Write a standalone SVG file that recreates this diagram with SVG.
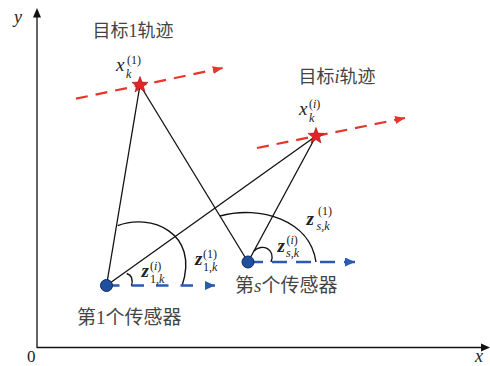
<svg xmlns="http://www.w3.org/2000/svg" width="490" height="366" viewBox="0 0 490 366">
<style>
.ax{stroke:#111;stroke-width:1.3;fill:none}
.ln{stroke:#111;stroke-width:1.3;fill:none}
.arc{stroke:#111;stroke-width:1.4;fill:none}
.rd{stroke:#e8352b;stroke-width:2.2;fill:none;stroke-dasharray:12 8}
.bd{stroke:#2a5bb0;stroke-width:2.4;fill:none}
.m{font-family:"Liberation Serif",serif;font-style:italic;fill:#222}
.up{font-style:normal}
.b{font-size:19px}
.s{font-size:12px}
.z{font-size:19px;font-weight:bold}
.cj{font-family:"Noto Sans CJK SC","Noto Sans",sans-serif;fill:#444}
.ser{font-family:"Liberation Serif",serif}
</style>
<defs>
<marker id="ra" markerUnits="userSpaceOnUse" markerWidth="12" markerHeight="10" refX="10" refY="4" orient="auto"><path d="M0,0 L10,4 L0,8 Z" fill="#e8352b"/></marker>
<marker id="ba" markerUnits="userSpaceOnUse" markerWidth="12" markerHeight="10" refX="10" refY="4.5" orient="auto"><path d="M0,0 L10,4.5 L0,9 Z" fill="#2a5bb0"/></marker>
<polygon id="star" points="0,-8.5 2.1,-2.9 8.1,-2.6 3.4,1.1 5,6.9 0,3.6 -5,6.9 -3.4,1.1 -8.1,-2.6 -2.1,-2.9" fill="#e42424" stroke="#a01010" stroke-width="0.6"/>
</defs>
<g id="axes">
<line class="ax" x1="37" y1="348" x2="37" y2="16"/>
<polygon points="37,8 33,17.5 41,17.5" fill="#111"/>
<line class="ax" x1="37" y1="347.5" x2="482" y2="347.5"/>
<polygon points="490,347.5 481,343.5 481,351.5" fill="#111"/>
<text class="m" x="14" y="23" font-size="18">y</text>
<text class="ser" x="27" y="362" font-size="17" fill="#222">0</text>
<text class="m" x="475" y="362" font-size="18">x</text>
</g>
<g id="connectors">
<line class="ln" x1="106.5" y1="285.5" x2="140" y2="85"/>
<line class="ln" x1="106.5" y1="285.5" x2="316" y2="136"/>
<line class="ln" x1="248" y1="262" x2="140" y2="85"/>
<line class="ln" x1="248" y1="262" x2="316" y2="136"/>
<path class="arc" d="M117.7,225.7 C150,213 200,232 182,286"/>
<path class="arc" d="M126.7,273.5 C132,275 133,280 131.5,286"/>
<path class="arc" d="M220,216 C260,205 310,220 316,262"/>
<path class="arc" d="M254,251 C262,243 276,249 271,262"/>
<path class="rd" d="M76,98.7 L222.7,68" marker-end="url(#ra)"/>
<path class="rd" d="M257,148 L405,118" marker-end="url(#ra)"/>
<path class="bd" d="M107,285.5 L215,285.5" stroke-dasharray="12.5 12" marker-end="url(#ba)"/>
<path class="bd" d="M248,262 L355,262" stroke-dasharray="15 9" marker-end="url(#ba)"/>
</g>
<g id="target1">
<use href="#star" x="140" y="85"/>
<text class="m"><tspan class="b" x="116" y="70.5">x</tspan><tspan class="s" x="126" y="77.5">k</tspan><tspan class="s up" x="127" y="63.5">(1)</tspan></text>
<text class="cj" x="92.5" y="36.5" font-size="18">目标<tspan class="ser">1</tspan>轨迹</text>
</g>
<g id="targeti">
<use href="#star" x="316" y="136"/>
<text class="m"><tspan class="b" x="299" y="115">x</tspan><tspan class="s" x="309" y="122">k</tspan><tspan class="s up" x="309" y="108">(</tspan><tspan class="s">i</tspan><tspan class="s up">)</tspan></text>
<text class="cj" x="298.5" y="82.5" font-size="18">目标<tspan class="ser" font-style="italic">i</tspan>轨迹</text>
</g>
<g id="sensor1">
<circle cx="106.5" cy="285.5" r="6" fill="#1f4f9f" stroke="#0d2a5c" stroke-width="1"/>
<text class="m"><tspan class="z" x="141.5" y="276.5">z</tspan><tspan class="s up" x="150" y="270">(</tspan><tspan class="s">i</tspan><tspan class="s up">)</tspan><tspan class="s up" x="150" y="283">1,</tspan><tspan class="s">k</tspan></text>
<text class="m"><tspan class="z" x="195" y="265">z</tspan><tspan class="s up" x="203" y="258">(1)</tspan><tspan class="s up" x="203" y="271">1,</tspan><tspan class="s">k</tspan></text>
<text class="cj" x="77" y="323.5" font-size="19">第<tspan class="ser">1</tspan>个传感器</text>
</g>
<g id="sensors">
<circle cx="248" cy="262" r="6" fill="#1f4f9f" stroke="#0d2a5c" stroke-width="1"/>
<text class="m"><tspan class="z" x="277.5" y="252">z</tspan><tspan class="s up" x="286.5" y="244">(</tspan><tspan class="s">i</tspan><tspan class="s up">)</tspan><tspan class="s" x="286" y="257">s</tspan><tspan class="s up">,</tspan><tspan class="s">k</tspan></text>
<text class="m"><tspan class="z" x="306.5" y="225">z</tspan><tspan class="s up" x="318" y="215">(1)</tspan><tspan class="s" x="316.5" y="230">s</tspan><tspan class="s up">,</tspan><tspan class="s">k</tspan></text>
<text class="cj" x="235" y="291.5" font-size="19">第<tspan class="ser" font-style="italic">s</tspan>个传感器</text>
</g>
</svg>
